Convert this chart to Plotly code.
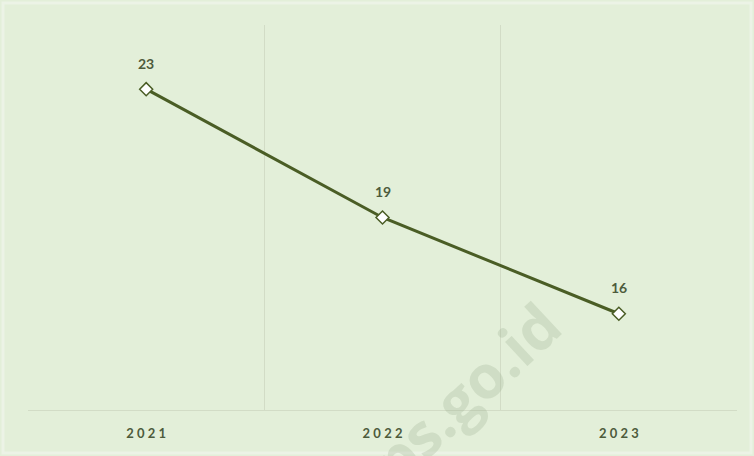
import plotly.graph_objects as go

years = ["2021", "2022", "2023"]
values = [23, 19, 16]
tick_labels = ["2021", "2022", "2023"]

bg = "#e3efd9"
line_col = "#4a5d25"
text_col = "#4d5b3c"
grid_col = "#d2dcc6"

plot_w = 754 - 28 - 17
plot_h = 456 - 25 - 46


def spaced(s):
    return "\u2009\u2009".join(s)


fig = go.Figure()
fig.add_trace(go.Scatter(
    x=years, y=values, mode="lines+markers",
    line=dict(color=line_col, width=3),
    marker=dict(symbol="diamond", size=10, color="white",
                line=dict(color=line_col, width=1.5)),
    hoverinfo="skip", showlegend=False,
))

for i, v in enumerate(values):
    fig.add_annotation(x=i, y=v, xref="x", yref="y", text=f"<b>{v}</b>",
                       showarrow=False, yshift=26,
                       font=dict(size=14, color=text_col, family="Lato"))

fig.add_annotation(x=(452 - 28) / plot_w, y=(456 - 46 - 405) / plot_h,
                   xref="paper", yref="paper", xanchor="center", yanchor="middle",
                   text="<b>bps.go.id</b>", showarrow=False, textangle=-43,
                   font=dict(size=60, color="rgba(150,170,140,0.26)", family="Open Sans"))

fig.add_shape(type="rect", xref="paper", yref="paper",
              x0=(3 - 28) / plot_w, x1=(751 - 28) / plot_w,
              y0=(456 - 46 - 453) / plot_h, y1=(456 - 46 - 3) / plot_h,
              line=dict(color="#ecf3e6", width=3), layer="below")

fig.update_layout(
    width=754, height=456,
    margin=dict(l=28, r=17, t=25, b=46),
    paper_bgcolor=bg, plot_bgcolor=bg,
    font=dict(family="Lato", color=text_col),
    xaxis=dict(type="category", tickson="boundaries", showgrid=True,
               gridcolor=grid_col, gridwidth=1,
               tickvals=years, ticktext=[f"<b>{spaced(t)}</b>" for t in tick_labels],
               tickfont=dict(size=13, color=text_col, family="Lato"),
               ticks="", ticklabelstandoff=11,
               showline=True, linecolor=grid_col, linewidth=1,
               range=[-0.5, 2.5], fixedrange=True),
    yaxis=dict(range=[13, 25], showgrid=False, showticklabels=False,
               zeroline=False, showline=False, fixedrange=True),
)

fig.write_html("out.html", config={"displayModeBar": False},
               post_script="document.body.style.margin='0';")
